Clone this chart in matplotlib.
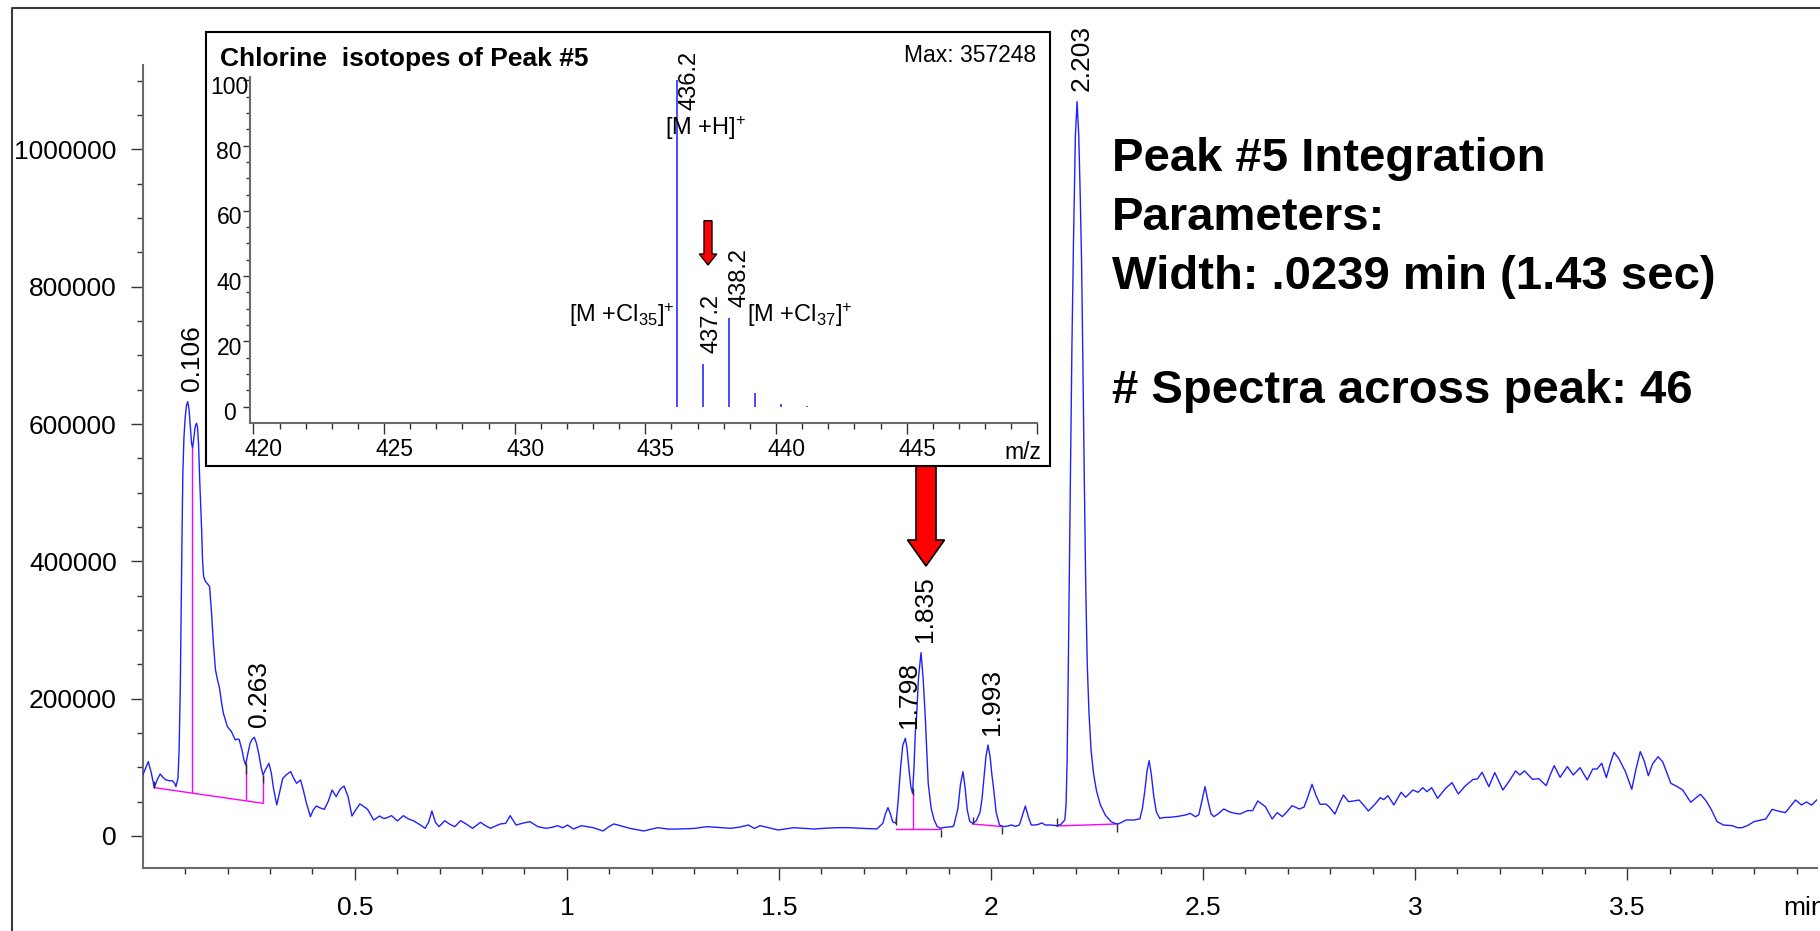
import numpy as np
import matplotlib.pyplot as plt
import matplotlib.transforms as mtransforms
from matplotlib.patches import Polygon, Rectangle
from matplotlib.lines import Line2D
from matplotlib.ticker import FixedLocator

plt.rcParams['font.family'] = ['Liberation Sans', 'DejaVu Sans']
plt.rcParams['mathtext.fontset'] = 'custom'
plt.rcParams['mathtext.rm'] = 'Liberation Sans'
plt.rcParams['mathtext.it'] = 'Liberation Sans:italic'
plt.rcParams['mathtext.bf'] = 'Liberation Sans:bold'

# ---- TIC trace: retention time (min) and intensity (counts)
rt_min = [
    0.000, 0.013, 0.020, 0.027, 0.034, 0.041, 0.048, 0.055, 0.062, 0.069,
    0.075, 0.0782, 0.0829, 0.0856, 0.0885, 0.0903, 0.0925, 0.0945, 0.0970, 0.100,
    0.103, 0.106, 0.109, 0.112, 0.115, 0.1174, 0.120, 0.1235, 0.1265, 0.129,
    0.1315, 0.1341, 0.1365, 0.1388, 0.1410, 0.1435, 0.148, 0.1545, 0.1575, 0.162,
    0.1665, 0.1714, 0.176, 0.181, 0.1855, 0.190, 0.1994, 0.204, 0.209, 0.218,
    0.222, 0.227, 0.231, 0.234, 0.238, 0.2425, 0.247, 0.253, 0.258, 0.263,
    0.268, 0.274, 0.279, 0.2835, 0.2905, 0.2973, 0.303, 0.308, 0.3159, 0.322,
    0.330, 0.340, 0.3486, 0.356, 0.3626, 0.372, 0.378, 0.386, 0.3952, 0.402,
    0.4092, 0.418, 0.4279, 0.437, 0.4465, 0.4559, 0.465, 0.4745, 0.484, 0.4932,
    0.502, 0.5119, 0.521, 0.530, 0.5445, 0.5585, 0.566, 0.5725, 0.5865, 0.6005,
    0.6144, 0.626, 0.6377, 0.652, 0.6657, 0.674, 0.6816, 0.690, 0.6984, 0.7123,
    0.724, 0.7356, 0.7496, 0.7636, 0.7776, 0.7963, 0.808, 0.8196, 0.8429, 0.856,
    0.8662, 0.8802, 0.895, 0.9128, 0.9315, 0.9501, 0.964, 0.9781, 0.990, 1.0014,
    1.0154, 1.034, 1.062, 1.0853, 1.100, 1.111, 1.148, 1.181, 1.214, 1.240,
    1.265, 1.300, 1.330, 1.386, 1.408, 1.428, 1.442, 1.456, 1.498, 1.535,
    1.582, 1.615, 1.638, 1.666, 1.700, 1.731, 1.745, 1.751, 1.757, 1.763,
    1.768, 1.776, 1.781, 1.787, 1.792, 1.798, 1.802, 1.806, 1.811, 1.815,
    1.8185, 1.8215, 1.8245, 1.829, 1.835, 1.840, 1.845, 1.852, 1.859, 1.866,
    1.873, 1.880, 1.890, 1.908, 1.912, 1.922, 1.928, 1.934, 1.939, 1.944,
    1.950, 1.957, 1.965, 1.974, 1.979, 1.983, 1.988, 1.993, 1.998, 2.002,
    2.006, 2.012, 2.020, 2.030, 2.040, 2.048, 2.058, 2.067, 2.074, 2.081,
    2.088, 2.095, 2.104, 2.112, 2.120, 2.128, 2.140, 2.155, 2.165, 2.174,
    2.177, 2.1795, 2.182, 2.185, 2.188, 2.191, 2.1946, 2.199, 2.203, 2.207,
    2.2105, 2.2135, 2.2165, 2.220, 2.2235, 2.227, 2.231, 2.236, 2.242, 2.249,
    2.258, 2.270, 2.283, 2.291, 2.300, 2.319, 2.337, 2.351,
    2.357, 2.363, 2.368, 2.373, 2.378, 2.384, 2.390, 2.398, 2.410, 2.421,
    2.440, 2.459, 2.470, 2.482, 2.490, 2.497, 2.5046, 2.512, 2.519, 2.526,
    2.537, 2.549, 2.563, 2.575, 2.587, 2.605, 2.617, 2.629, 2.647, 2.663,
    2.675, 2.687, 2.699, 2.710, 2.727, 2.738, 2.746, 2.757, 2.767, 2.776,
    2.790, 2.798, 2.811, 2.822, 2.831, 2.843, 2.855, 2.868, 2.880, 2.890,
    2.905, 2.918, 2.926, 2.936, 2.950, 2.967, 2.978, 2.995, 3.007, 3.018,
    3.028, 3.039, 3.053, 3.072, 3.087, 3.102, 3.118, 3.137, 3.147, 3.158,
    3.174, 3.188, 3.207, 3.222, 3.237, 3.247, 3.258, 3.277, 3.292, 3.309,
    3.318, 3.328, 3.342, 3.359, 3.373, 3.389, 3.406, 3.419, 3.429, 3.440,
    3.451, 3.460, 3.469, 3.480, 3.496, 3.511, 3.520, 3.531, 3.540, 3.550,
    3.560, 3.573, 3.584, 3.603, 3.615, 3.631, 3.650, 3.665, 3.673, 3.685,
    3.697, 3.712, 3.727, 3.748, 3.760, 3.771, 3.785, 3.799, 3.827, 3.842,
    3.858, 3.873, 3.897, 3.911, 3.923, 3.935, 3.947,
]
tic = [
    88900, 108300, 92000, 70400, 82000, 90300, 85000, 81600, 80500, 80600,
    77000, 71900, 84000, 125000, 220000, 319000, 440000, 530000, 580000, 610000,
    627000, 632600, 622000, 598000, 572000, 564800, 578000, 596000, 601200, 596000,
    570000, 520000, 480000, 445000, 400000, 377800, 370500, 366000, 363000, 326000,
    280000, 241800, 228000, 215100, 195000, 178700, 159300, 156000, 152000, 139800,
    141000, 140800, 132000, 125000, 112000, 103400, 118000, 135000, 141000, 143700,
    135000, 118000, 100000, 88900, 98000, 105800, 92000, 70000, 45200, 62000,
    84000, 90000, 93700, 84000, 76700, 81600, 68000, 47600, 28200, 38000,
    43700, 41000, 38800, 50000, 67000, 57300, 68000, 72800, 57300, 29100,
    38000, 46600, 43000, 38800, 23300, 29100, 26000, 25700, 29600, 21900,
    29600, 25000, 22300, 17000, 11200, 20000, 36400, 20000, 13600, 22300,
    17000, 13600, 22300, 17000, 11200, 19900, 15000, 11200, 17500, 18500,
    29600, 16000, 18500, 20900, 13600, 11200, 12500, 15000, 12000, 16000,
    10200, 15000, 12100, 7300, 14000, 17500, 11200, 7300, 12100, 10000,
    10200, 11000, 13600, 11200, 13000, 16000, 11000, 15000, 8700, 12100,
    10200, 11500, 12100, 12100, 11000, 10200, 18500, 32000, 41300, 32000,
    20900, 18500, 50000, 101000, 132000, 142300, 128000, 101000, 72000, 62100,
    100000, 150000, 173800, 230000, 267000, 230000, 173800, 76700, 40000, 23300,
    14000, 11200, 12500, 13600, 14500, 40000, 75000, 93700, 70000, 37900,
    21000, 18500, 22000, 34000, 55000, 81600, 115000, 132600, 115000, 90000,
    70000, 35000, 16000, 13600, 14500, 16000, 14000, 16000, 30000, 43700,
    28000, 16000, 16000, 17000, 19000, 16000, 16000, 15000, 17000, 23300,
    45000, 110000, 230000, 400000, 562000, 720000, 868000, 1020000, 1069600, 1020000,
    930000, 840000, 700000, 520000, 360000, 250000, 180000, 125000, 90000, 65000,
    45200, 30000, 21000, 18500, 17500, 23300, 23300, 25000,
    40000, 67000, 95000, 109700, 90000, 57000, 35000, 25700, 27000, 27200,
    28500, 30600, 33000, 28000, 31000, 50000, 71900, 50000, 32000, 28200,
    33000, 39300, 35000, 33000, 32000, 36900, 37000, 51000, 42700, 24800,
    34000, 28200, 36000, 44200, 39300, 42000, 55000, 75300, 58000, 46100,
    46500, 42000, 32000, 48000, 59700, 50000, 51000, 52400, 44000, 36400,
    46000, 55800, 53000, 58700, 45200, 63600, 56500, 67000, 63600, 70400,
    64500, 70400, 54900, 69400, 77700, 61200, 72800, 82500, 83000, 92800,
    71900, 92300, 67000, 80000, 94700, 89000, 94700, 82500, 83500, 73300,
    88000, 102400, 85500, 101000, 88900, 99500, 81600, 97600, 97500, 105900,
    85000, 105000, 121900, 113200, 93700, 68000, 95000, 122800, 110000, 87800,
    105000, 115500, 108000, 76700, 73000, 67000, 49100, 57000, 60700, 52000,
    40300, 21000, 16000, 15000, 12100, 12100, 15500, 20900, 24800, 38800,
    36000, 34000, 52400, 45200, 49600, 45000, 52400,
]

# labelled peak apexes
peak_rt = [0.106, 0.263, 1.798, 1.835, 1.993, 2.203]
peak_int = [632600, 143700, 142300, 267000, 132600, 1069600]

# integration baselines (start/end time and level)
base_t0 = [0.027, 1.776, 1.957, 2.155]
base_y0 = [70400, 10200, 17500, 14600]
base_t1 = [0.2835, 1.882, 2.027, 2.298]
base_y1 = [47600, 10200, 13600, 17500]

# drop lines between integrated peaks
drop_t = [0.117, 0.2425, 0.2835, 1.815]
drop_lo = [63100, 52400, 47600, 10200]
drop_hi = [564800, 103400, 88900, 62100]

# start/end markers of the integration
mark_t = [0.027, 0.2425, 0.2835, 1.776, 1.815, 1.882, 1.957, 2.027, 2.155, 2.298]
mark_lo = [70400, 91000, 76700, 16000, 59700, -1000, 17500, 2900, 14600, 6300]
mark_hi = [80000, 106000, 88900, 28000, 69400, 8700, 28200, 13600, 25700, 17500]

# mass spectrum of peak #5 (relative abundance)
ms_mz = [436.2, 437.2, 438.2, 439.2, 440.2, 441.2]
ms_rel = [100, 13.0, 27.1, 4.3, 0.8, 0.2]
ms_labels = ['436.2', '437.2', '438.2']

x_major = [0.5, 1, 1.5, 2, 2.5, 3, 3.5]
x_major_labels = ['0.5', '1', '1.5', '2', '2.5', '3', '3.5']
y_major = [0, 200000, 400000, 600000, 800000, 1000000]

BLUE = '#2020ff'
MAGENTA = '#ff00ff'
SPINE = '#6a6a6a'

W, H = 1820, 931
fig = plt.figure(figsize=(W / 100, H / 100), dpi=100)
# pixel coordinates, origin top-left
pix = mtransforms.Affine2D().scale(1 / W, -1 / H).translate(0, 1) + fig.transFigure


def box(l, t, r, b):
    return [l / W, 1 - b / H, (r - l) / W, (b - t) / H]


def shift(dx, dy):
    return mtransforms.ScaledTranslation(dx / 100, dy / 100, fig.dpi_scale_trans)


# ---- main chromatogram
ax = fig.add_axes(box(142.8, 65, 1816.7, 867.5), zorder=0)
ax.plot(rt_min, tic, color=BLUE, lw=1.0, zorder=3)
for t0, y0, t1, y1 in zip(base_t0, base_y0, base_t1, base_y1):
    ax.plot([t0, t1], [y0, y1], color=MAGENTA, lw=1.0, zorder=2)
ax.vlines(drop_t, drop_lo, drop_hi, color=MAGENTA, lw=1.0, zorder=2)
ax.vlines(mark_t, mark_lo, mark_hi, color='#303030', lw=1.0, zorder=4)

for t, v in zip(peak_rt, peak_int):
    ax.annotate(f'{t:.3f}', xy=(t, v), xytext=(3, 7.5), textcoords='offset points',
                rotation=90, ha='center', va='bottom', fontsize=19)

ax.set_xlim(0, 3.947)
ax.set_ylim(-45900, 1123000)
ax.xaxis.set_major_locator(FixedLocator(x_major))
ax.set_xticklabels(x_major_labels)
ax.xaxis.set_minor_locator(FixedLocator([i / 10 for i in range(1, 40) if i % 5]))
ax.yaxis.set_major_locator(FixedLocator(y_major))
ax.set_yticklabels([str(v) for v in y_major])
ax.yaxis.set_minor_locator(FixedLocator([i * 50000 for i in range(0, 23)]))
for s in ['top', 'right']:
    ax.spines[s].set_visible(False)
for s in ['left', 'bottom']:
    ax.spines[s].set_color(SPINE)
    ax.spines[s].set_linewidth(1.5)
ax.tick_params(which='major', direction='out', length=8.8, width=1.0, color='#333333',
               labelsize=19)
ax.tick_params(which='minor', direction='out', length=4.5, width=1.0, color='#333333')
ax.tick_params(axis='y', which='major', pad=10)
ax.tick_params(axis='x', which='major', pad=11.5)
ax.patch.set_alpha(0)

fig.text(1783, 915, 'min', transform=pix, fontsize=19, ha='left', va='baseline')

# red arrow pointing at peak #5
big_arrow = [(916, 466), (936, 466), (936, 540), (944.5, 540), (926, 566),
             (907.5, 540), (916, 540)]
fig.patches.append(Polygon(big_arrow, closed=True, transform=pix, facecolor='#ff0000',
                           edgecolor='black', lw=1.2, zorder=0.5))

# ---- inset: mass spectrum
fig.patches.append(Rectangle((205.7, 32.3), 844.3, 433.7, transform=pix,
                             facecolor='white', edgecolor='black', lw=1.5, zorder=1))

ins = fig.add_axes(box(250, 77, 1037.3, 422.7), zorder=2)
ins.patch.set_alpha(0)
ins.vlines(ms_mz, 0, ms_rel, color='#4a4aff', lw=1.4)
ins.set_xlim(419.87, 450)
ins.set_ylim(-4.9, 101)
ins.xaxis.set_major_locator(FixedLocator([420, 425, 430, 435, 440, 445, 450]))
ins.set_xticklabels(['420', '425', '430', '435', '440', '445', ''])
ins.xaxis.set_minor_locator(FixedLocator(list(range(421, 450))))
ins.yaxis.set_major_locator(FixedLocator([0, 20, 40, 60, 80, 100]))
ins.set_yticklabels(['0', '20', '40', '60', '80', '100'])
ins.yaxis.set_minor_locator(FixedLocator(list(range(5, 100, 5))))
for s in ['top', 'right']:
    ins.spines[s].set_visible(False)
for s in ['left', 'bottom']:
    ins.spines[s].set_color(SPINE)
    ins.spines[s].set_linewidth(1.5)
ins.tick_params(which='major', direction='out', width=1.0, color='#333333', labelsize=16.5)
ins.tick_params(axis='x', which='major', length=7.7, pad=3.6)
ins.tick_params(axis='x', which='minor', length=4.1, width=1.0, color='#333333')
ins.tick_params(axis='y', which='major', length=5, pad=10)
ins.tick_params(axis='y', which='minor', length=2.8, width=1.0, color='#333333')
for lab in ins.get_yticklabels():
    lab.set_horizontalalignment('center')
for tk in ins.xaxis.get_major_ticks():
    tk.label1.set_transform(tk.label1.get_transform() + shift(10.5, 0))
for tk in ins.yaxis.get_major_ticks():
    tk.label1.set_transform(tk.label1.get_transform() + shift(0, -4.5))

# stick labels
label_offsets = {'436.2': (9.4, -21.6), '437.2': (6.0, 7.9), '438.2': (7.4, 8.4)}
for mz, rel in zip(ms_mz, ms_rel):
    name = f'{mz:.1f}'
    if name in ms_labels:
        dx, dy = label_offsets[name]
        ins.annotate(name, xy=(mz, rel), xytext=(dx, dy), textcoords='offset points',
                     rotation=90, ha='center', va='bottom', fontsize=17)

ins.text(435.75, 83.2, r'[M +H]$^{+}$', fontsize=17, ha='left', va='baseline')
ins.text(436.14, 26.0, r'[M +Cl$_{35}$]$^{+}$', fontsize=17, ha='right', va='baseline')
ins.text(438.88, 26.0, r'[M +Cl$_{37}$]$^{+}$', fontsize=17, ha='left', va='baseline')

small_arrow = [(704, 220.7), (712, 220.7), (712, 254), (716.7, 254), (708, 265),
               (699.3, 254), (704, 254)]
fig.patches.append(Polygon(small_arrow, closed=True, transform=pix, facecolor='#ff0000',
                           edgecolor='black', lw=1.0, zorder=3))

fig.text(219.5, 66, 'Chlorine  isotopes of Peak #5', transform=pix, fontsize=19,
         fontweight='bold', ha='left', va='baseline', zorder=3)
fig.text(1036, 61.7, 'Max: 357248', transform=pix, fontsize=16.5, ha='right',
         va='baseline', zorder=3)
fig.text(1041.7, 459, 'm/z', transform=pix, fontsize=16.5, ha='right', va='baseline',
         zorder=3)

# ---- integration parameters
info_lines = ['Peak #5 Integration', 'Parameters:', 'Width: .0239 min (1.43 sec)',
              '# Spectra across peak: 46']
info_base = [171, 230, 289, 403]
for txt, yb in zip(info_lines, info_base):
    fig.text(1112, yb, txt, transform=pix, fontsize=34, fontweight='bold',
             ha='left', va='baseline')

# outer frame
fig.lines.append(Line2D([11.5, 11.5, 1820], [931, 8, 8], transform=pix,
                        color='#3a3a3a', lw=1.5))

fig.savefig('out.png', dpi=100)
